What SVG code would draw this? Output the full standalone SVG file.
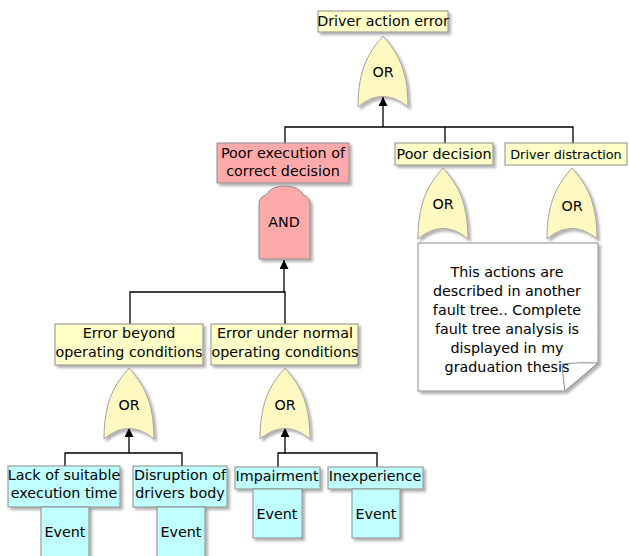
<svg xmlns="http://www.w3.org/2000/svg" width="629" height="556" viewBox="0 0 629 556">
<defs>
<filter id="sh" x="-20%" y="-20%" width="150%" height="150%">
<feDropShadow dx="2.5" dy="2.5" stdDeviation="1" flood-color="#000" flood-opacity="0.3"/>
</filter>
<path id="orgate" d="M0,0 C-12,14 -25,30 -25,71 Q0,50 25,71 C25,30 12,14 0,0 Z"/>
<marker id="ah" viewBox="0 0 10 10" refX="10" refY="5" markerWidth="9" markerHeight="9" markerUnits="userSpaceOnUse" orient="auto">
<path d="M0,0 L10,5 L0,10 Z" fill="#000"/>
</marker>
<style>
text{font-family:"DejaVu Sans","Liberation Sans",sans-serif;font-size:14.3px;fill:#000;text-anchor:middle}
.ybox{fill:#ffffc8;stroke:#8c8c8c;stroke-width:1}
.pbox{fill:#ffaaaa;stroke:#8c8c8c;stroke-width:1}
.cbox{fill:#c0ffff;stroke:#8c8c8c;stroke-width:1}
.gate{fill:#fff8c0;stroke:#a0a0a0;stroke-width:1}
.note{fill:#fff;stroke:#8c8c8c;stroke-width:1}
.ln{fill:none;stroke:#000;stroke-width:1.3}
</style>
</defs>
<rect width="629" height="556" fill="#fff"/>

<g id="connectors">
<path class="ln" d="M285,143 V127 H573 V143 M445,127 V143"/>
<path class="ln" d="M383,127 V97" marker-end="url(#ah)"/>
<path class="ln" d="M130,324 V292 H285 V324"/>
<path class="ln" d="M284,292 V260" marker-end="url(#ah)"/>
<path class="ln" d="M65,466 V453 H182 V466"/>
<path class="ln" d="M129,453 V428" marker-end="url(#ah)"/>
<path class="ln" d="M278,467 V453 H377 V467"/>
<path class="ln" d="M285,453 V428" marker-end="url(#ah)"/>
</g>

<g id="driver-action-error">
<rect class="ybox" x="318" y="11" width="130" height="21" filter="url(#sh)"/>
<text x="383" y="26">Driver action error</text>
</g>
<g id="gate-top">
<use href="#orgate" class="gate" x="383" y="36" filter="url(#sh)"/>
<text x="383" y="77">OR</text>
</g>

<g id="poor-execution">
<rect class="pbox" x="217" y="143" width="132" height="40" filter="url(#sh)"/>
<text x="283" y="158">Poor execution of</text>
<text x="283" y="176">correct decision</text>
</g>
<g id="gate-and">
<path class="pbox" filter="url(#sh)" d="M259,259 V204 Q259,197 266,195 Q271,186 285,186 Q299,186 303,195 Q310,197 310,204 V259 Z"/>
<text x="284" y="227">AND</text>
</g>

<g id="poor-decision">
<rect class="ybox" x="395" y="143" width="98" height="22" filter="url(#sh)"/>
<text x="444" y="159">Poor decision</text>
</g>
<g id="gate-poor-decision">
<use href="#orgate" class="gate" x="443" y="168" filter="url(#sh)"/>
<text x="443" y="209">OR</text>
</g>

<g id="driver-distraction">
<rect class="ybox" x="505" y="143" width="122" height="22"/>
<text x="566" y="159" style="font-size:12.8px">Driver distraction</text>
</g>
<g id="gate-driver-distraction">
<use href="#orgate" class="gate" x="572" y="168" filter="url(#sh)"/>
<text x="572" y="211">OR</text>
</g>

<g id="note">
<path class="note" filter="url(#sh)" d="M418,243 H598 V363 L565,391 H418 Z"/>
<path class="note" d="M565,391 Q563,378 562,364 Q580,362 598,363 Z"/>
<text x="507" y="277">This actions are</text>
<text x="507" y="296">described in another</text>
<text x="507" y="315">fault tree.. Complete</text>
<text x="507" y="334">fault tree analysis is</text>
<text x="507" y="353">displayed in my</text>
<text x="507" y="372">graduation thesis</text>
</g>

<g id="error-beyond">
<rect class="ybox" x="55" y="324" width="148" height="41" filter="url(#sh)"/>
<text x="129" y="338">Error beyond</text>
<text x="129" y="357">operating conditions</text>
</g>
<g id="gate-beyond">
<use href="#orgate" class="gate" x="129" y="368" filter="url(#sh)"/>
<text x="129" y="410">OR</text>
</g>

<g id="error-normal">
<rect class="ybox" x="211" y="324" width="147" height="41" filter="url(#sh)"/>
<text x="285" y="338">Error under normal</text>
<text x="285" y="357">operating conditions</text>
</g>
<g id="gate-normal">
<use href="#orgate" class="gate" x="285" y="368" filter="url(#sh)"/>
<text x="285" y="410">OR</text>
</g>

<g id="lack-of-time">
<rect class="cbox" x="8" y="466" width="112" height="41" filter="url(#sh)"/>
<text x="64" y="480">Lack of suitable</text>
<text x="64" y="498">execution time</text>
<rect class="cbox" x="41" y="507" width="48" height="52" filter="url(#sh)"/>
<text x="65" y="537">Event</text>
</g>

<g id="disruption">
<rect class="cbox" x="133" y="466" width="94" height="41" filter="url(#sh)"/>
<text x="180" y="480">Disruption of</text>
<text x="180" y="498">drivers body</text>
<rect class="cbox" x="157" y="507" width="48" height="52" filter="url(#sh)"/>
<text x="181" y="537">Event</text>
</g>

<g id="impairment">
<rect class="cbox" x="235" y="467" width="85" height="22" filter="url(#sh)"/>
<text x="277" y="481">Impairment</text>
<rect class="cbox" x="253" y="489" width="49" height="49" filter="url(#sh)"/>
<text x="277" y="519">Event</text>
</g>

<g id="inexperience">
<rect class="cbox" x="328" y="467" width="95" height="22" filter="url(#sh)"/>
<text x="375" y="481">Inexperience</text>
<rect class="cbox" x="352" y="489" width="48" height="49" filter="url(#sh)"/>
<text x="376" y="519">Event</text>
</g>
</svg>
